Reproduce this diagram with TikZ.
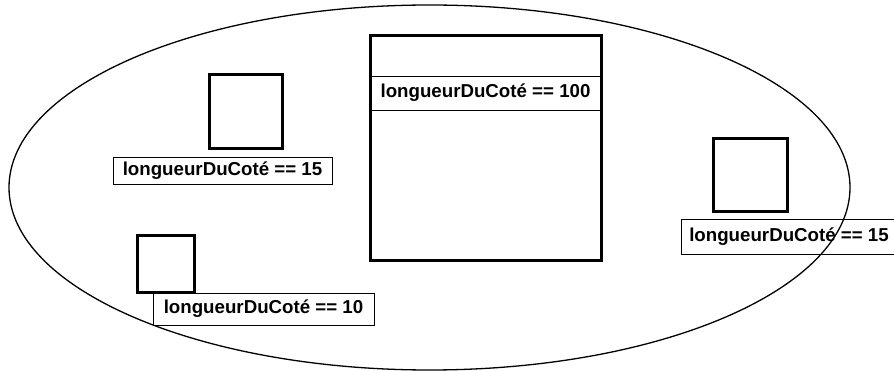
\documentclass[tikz,border=0pt]{standalone}
\usepackage{fontspec}
\setmainfont{Liberation Sans}
\usetikzlibrary{shapes.geometric}
\begin{document}
\begin{tikzpicture}[x=1pt,y=-1pt,
  sq/.style={draw, line width=3pt, rectangle, inner sep=0pt},
  lbl/.style={draw, line width=0.9pt, rectangle, inner sep=0pt,
    font=\fontsize{18.7}{22}\selectfont\bfseries}]
\useasboundingbox (0,0) rectangle (894,371);
% big square with its label
\node[sq, minimum width=231pt, minimum height=225pt] (big) at (485.5,148.5) {};
\node[lbl, minimum width=229pt, minimum height=34pt] (bigl) at (485.5,93) {longueurDuCoté == 100};
% top left square
\node[sq, minimum width=73pt, minimum height=74pt] (s1) at (245.5,112) {};
\node[lbl, minimum width=219pt, minimum height=27pt] (l1) at (222.5,170.5) {longueurDuCoté == 15};
% right square
\node[sq, minimum width=74pt, minimum height=73pt] (s2) at (750,175.5) {};
\node[lbl, minimum width=216pt, minimum height=35pt] (l2) at (789,236.5) {longueurDuCoté == 15};
% bottom left square
\node[sq, minimum width=57pt, minimum height=57pt] (s3) at (165.5,264.5) {};
\node[lbl, minimum width=221pt, minimum height=32pt] (l3) at (263.5,309) {longueurDuCoté == 10};
% ellipse
\node[draw, ellipse, line width=1.3pt, inner sep=0pt, minimum width=841pt, minimum height=365pt] (ell) at (429.5,187.5) {};
\end{tikzpicture}
\end{document}
